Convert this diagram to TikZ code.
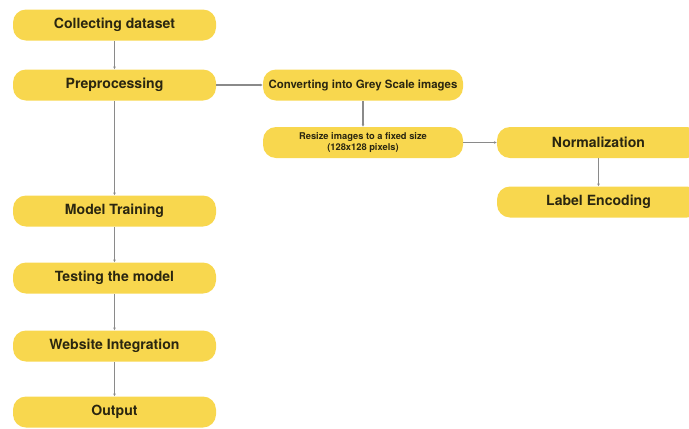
\documentclass[tikz,border=0pt]{standalone}
\usepackage{fontspec}
\setmainfont{TeX Gyre Heros}
\usetikzlibrary{arrows.meta}
\definecolor{stepyellow}{HTML}{F8D74E}
\definecolor{steptext}{HTML}{2A2610}
\definecolor{linkgrey}{HTML}{8A8A8A}
\begin{document}
\begin{tikzpicture}[
            stage/.style={rectangle, rounded corners=0.26cm, fill=stepyellow, text=steptext, font=\bfseries\fontsize{8}{9}\selectfont, minimum width=4.06cm, minimum height=0.62cm, inner sep=0pt},
            substage/.style={stage, minimum width=4.0cm, font=\bfseries\fontsize{6.5}{7.5}\selectfont},
            link/.style={draw=linkgrey, line width=0.6pt, -{Stealth[length=1.5pt,width=1.5pt]}},
        ]
            \useasboundingbox (0,0) rectangle (13.78,8.56);
            % main column
            \node[stage](collect) at (2.29,8.06) {Collecting dataset};
            \node[stage](prep) at (2.29,6.86) {Preprocessing};
            \node[stage](train) at (2.29,4.34) {Model Training};
            \node[stage](test) at (2.29,3.0) {Testing the model};
            \node[stage](web) at (2.29,1.64) {Website Integration};
            \node[stage](output) at (2.29,0.32) {Output};
            % preprocessing steps
            \node[substage](grey) at (7.26,6.86) {Converting into Grey Scale images};
            \node[substage, font=\bfseries\fontsize{5.3}{6.4}\selectfont, align=center](resize) at (7.26,5.71) {Resize images to a fixed size\\(128x128 pixels)};
            \node[stage](norm) at (11.97,5.71) {Normalization};
            \node[stage](label) at (11.97,4.52) {Label Encoding};
            \draw[link] (collect) -- (prep);
            \draw[link] (prep) -- (train);
            \draw[link] (train) -- (test);
            \draw[link] (test) -- (web);
            \draw[link] (web) -- (output);
            \draw[link] (prep.east) -- (grey.west);
            \draw[link] (grey) -- (resize);
            \draw[link] (resize.east) -- (norm.west);
            \draw[link] (norm) -- (label);
        \end{tikzpicture}
\end{document}
